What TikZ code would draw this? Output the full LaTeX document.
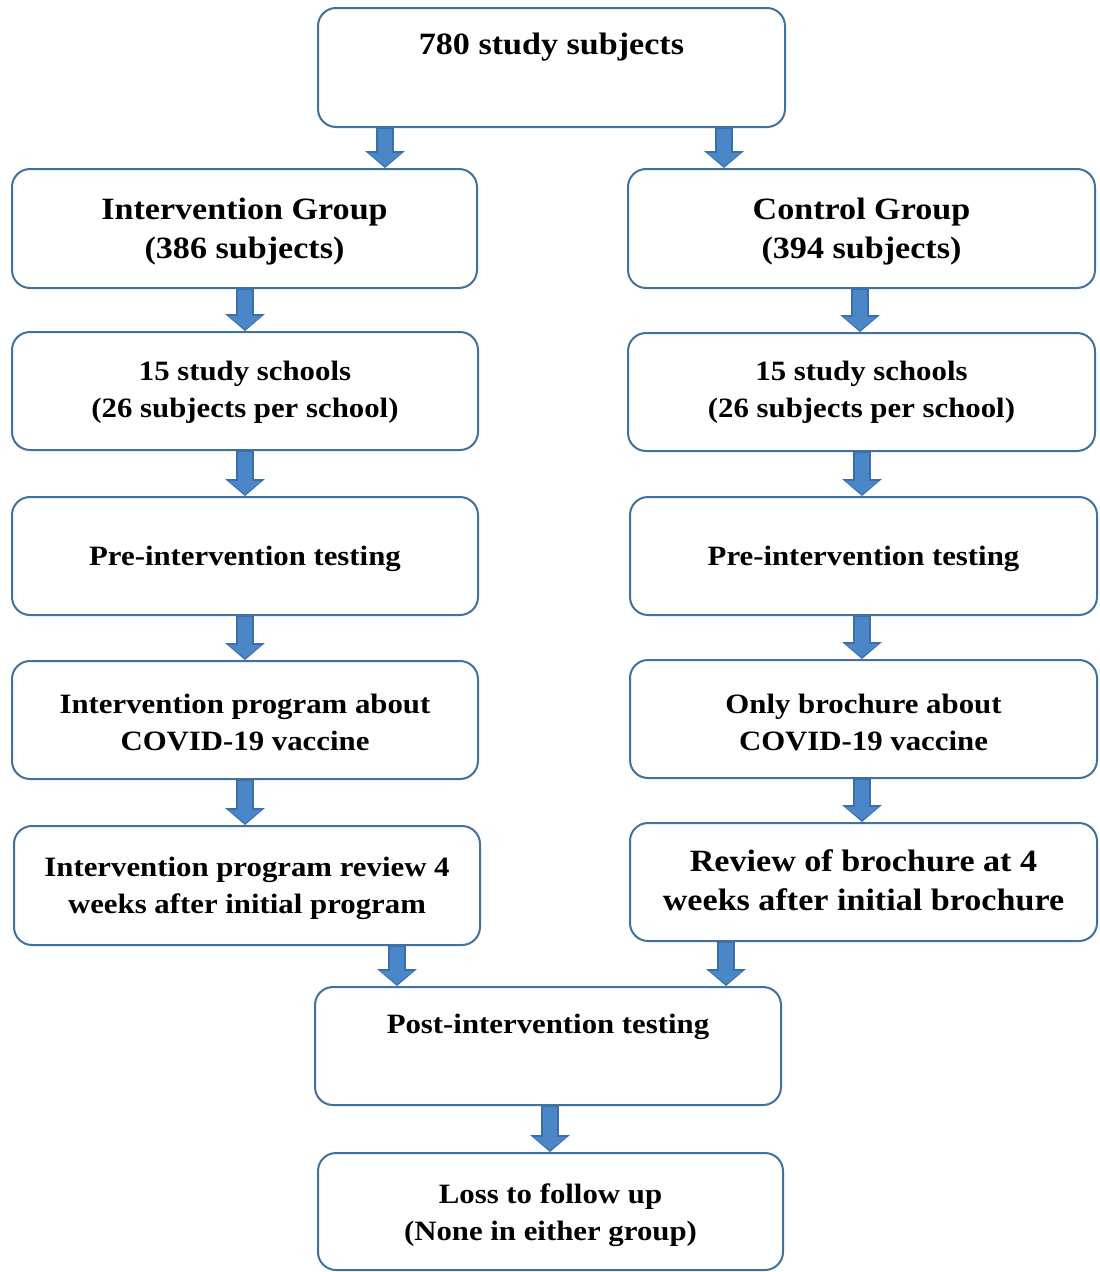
\documentclass[tikz,border=0pt]{standalone}
\usepackage{fontspec}
\setmainfont[FakeStretch=1.1]{Liberation Serif}
\usetikzlibrary{arrows.meta}
\definecolor{boxline}{HTML}{41719C}
\definecolor{arrfill}{HTML}{4A86C8}
\definecolor{arrline}{HTML}{3A6FA8}
\tikzset{
  box/.style={draw=boxline, line width=2pt, rounded corners=18pt, fill=white,
    minimum width=466pt, minimum height=118pt, inner sep=0pt},
  txt/.style={font=\bfseries\fontsize{28}{37}\selectfont, align=center, text=black, inner sep=0pt},
  bigtxt/.style={font=\bfseries\fontsize{31}{39}\selectfont, align=center, text=black, inner sep=0pt},
  barrowout/.style={draw=arrline, line width=18pt, -{Triangle[width=39pt,length=17pt]}},
  barrowin/.style={draw=arrfill, line width=14pt, shorten >=2pt, shorten <=1pt, -{Triangle[width=33pt,length=13pt]}}
}
\newcommand{\blockarrow}[3]{%
  \draw[barrowout] (#1.south -| #3,0) -- (#2.north -| #3,0);
  \draw[barrowin] (#1.south -| #3,0) -- (#2.north -| #3,0);
}
\begin{document}
\begin{tikzpicture}[x=1pt,y=-1pt]
\useasboundingbox (0,0) rectangle (1100,1272);
% top
\node[box, minimum width=467pt, minimum height=119pt] (top) at (551.5,67.5) {};
\node[bigtxt] (toptxt) at (551.5,47) {780 study subjects};
% left column
\node[box, minimum width=465pt, minimum height=119pt] (ig) at (244.5,228.5) {};
\node[bigtxt] (igt) at ([yshift=-3pt]ig.center) {Intervention Group\\(386 subjects)};
\node[box] (ls) at (245,391) {};
\node[txt] (lst) at ([yshift=-1pt]ls.center) {15 study schools\\(26 subjects per school)};
\node[box] (lp) at (245,556) {};
\node[txt] (lpt) at ([yshift=-3pt]lp.center) {Pre-intervention testing};
\node[box] (li) at (245,720) {};
\node[txt] (lit) at ([yshift=-2pt]li.center) {Intervention program about\\COVID-19 vaccine};
\node[box, minimum height=119pt] (lr) at (247,885.5) {};
\node[txt] (lrt) at ([yshift=-3pt]lr.center) {Intervention program review 4\\weeks after initial program};
% right column
\node[box, minimum width=467pt, minimum height=119pt] (cg) at (861.5,228.5) {};
\node[bigtxt] (cgt) at ([yshift=-3pt]cg.center) {Control Group\\(394 subjects)};
\node[box, minimum width=467pt] (rs) at (861.5,392) {};
\node[txt] (rst) at (rs.center) {15 study schools\\(26 subjects per school)};
\node[box, minimum width=467pt] (rp) at (863.5,556) {};
\node[txt] (rpt) at ([yshift=-3pt]rp.center) {Pre-intervention testing};
\node[box, minimum width=467pt] (rb) at (863.5,719) {};
\node[txt] (rbt) at ([yshift=-3pt]rb.center) {Only brochure about\\COVID-19 vaccine};
\node[box, minimum width=467pt] (rr) at (863.5,882) {};
\node[bigtxt] (rrt) at ([yshift=2pt]rr.center) {Review of brochure at 4\\weeks after initial brochure};
% bottom
\node[box] (post) at (548,1046) {};
\node[txt] (posttxt) at (548,1027) {Post-intervention testing};
\node[box, minimum width=465pt, minimum height=117pt] (loss) at (550.5,1211.5) {};
\node[txt] (losst) at ([yshift=-4pt]loss.center) {Loss to follow up\\(None in either group)};
% arrows
\blockarrow{top}{ig}{385}
\blockarrow{top}{cg}{724}
\blockarrow{ig}{ls}{245}
\blockarrow{ls}{lp}{245}
\blockarrow{lp}{li}{245}
\blockarrow{li}{lr}{245}
\blockarrow{cg}{rs}{860}
\blockarrow{rs}{rp}{862}
\blockarrow{rp}{rb}{862}
\blockarrow{rb}{rr}{862}
\blockarrow{lr}{post}{397}
\blockarrow{rr}{post}{726}
\blockarrow{post}{loss}{550}
\end{tikzpicture}
\end{document}
